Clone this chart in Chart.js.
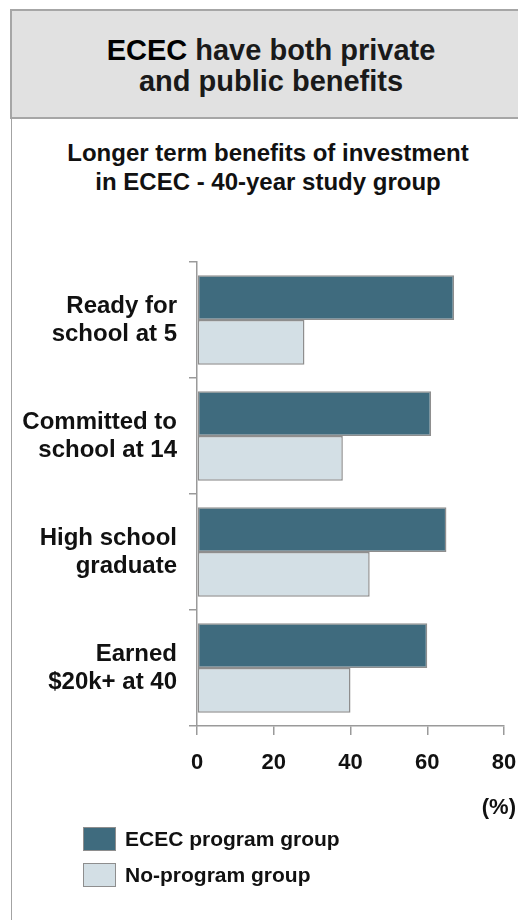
<!DOCTYPE html>
<html>
<head>
<meta charset="utf-8">
<script src="https://cdn.jsdelivr.net/npm/chart.js@4.4.1/dist/chart.umd.min.js"></script>
<style>
  html, body { margin: 0; padding: 0; background: #fff; }
  body { width: 518px; height: 920px; position: relative; overflow: hidden;
         font-family: "Liberation Sans", Arial, sans-serif; color: #111; }
  .frame { position: absolute; left: 11px; top: 117px; width: 0; height: 803px;
           border-left: 1.5px solid #a3a3a3; }
  .head { position: absolute; left: 10px; top: 9px; width: 530px; height: 106px;
          background: #e1e1e1; border: 2px solid #a6a6a6; }
  .head-text { position: absolute; left: 11px; top: 35px; width: 520px; text-align: center;
               font-weight: bold; font-size: 29px; line-height: 31px; color: #1a1a1a; }
  .head-text b { color: #000; }
  .sub { position: absolute; left: 18px; top: 138px; width: 500px; text-align: center;
         font-weight: bold; font-size: 24px; line-height: 29px; }
  canvas { position: absolute; left: 0; top: 0; }
  .unit { position: absolute; right: 2px; top: 794px; font-weight: bold; font-size: 22px; line-height: 26px; }
  .legend { position: absolute; left: 83px; top: 827px; }
  .legend .item { position: relative; height: 35.5px; }
  .legend .box { position: absolute; left: 0; top: 0; width: 31px; height: 22px; border: 1.5px solid #8e8e8e; }
  .legend .lbl { position: absolute; left: 42px; top: -1px; font-weight: bold; font-size: 21px; line-height: 26px; white-space: nowrap; }
</style>
</head>
<body>
<div class="head"></div>
<div class="head-text"><b>ECEC</b> have both private<br>and public benefits</div>
<div class="frame"></div>
<div class="sub">Longer term benefits of investment<br>in ECEC - 40-year study group</div>
<canvas id="chart" width="518" height="920"></canvas>
<div class="unit">(%)</div>
<div class="legend" id="legend"></div>

<script>
// outcomes at age 5 / 14 / school leaving / 40, share of each group (%)
const outcomes = [
  ['Ready for', 'school at 5'],
  ['Committed to', 'school at 14'],
  ['High school', 'graduate'],
  ['Earned', '$20k+ at 40']
];
const programGroup = [67, 61, 65, 60];
const noProgramGroup = [28, 38, 45, 40];
const xTicks = [0, 20, 40, 60, 80];

const axisGray = '#9a9a9a';
const barEdge = '#8e8e8e';

const chart = new Chart(document.getElementById('chart'), {
  type: 'bar',
  data: {
    labels: outcomes,
    datasets: [
      {
        label: 'ECEC program group',
        data: programGroup,
        backgroundColor: '#3f6b7e',
        borderColor: barEdge,
        borderWidth: 1.5,
        borderSkipped: false
      },
      {
        label: 'No-program group',
        data: noProgramGroup,
        backgroundColor: '#d3dfe5',
        borderColor: barEdge,
        borderWidth: 1.5,
        borderSkipped: false
      }
    ]
  },
  options: {
    indexAxis: 'y',
    responsive: false,
    animation: false,
    devicePixelRatio: 1,
    layout: { padding: { top: 262, bottom: 134, left: 0, right: 14 } },
    categoryPercentage: 0.77,
    barPercentage: 1,
    plugins: {
      legend: { display: false },
      tooltip: { enabled: false }
    },
    scales: {
      x: {
        min: xTicks[0],
        max: xTicks[xTicks.length - 1],
        afterBuildTicks: (s) => { s.ticks = xTicks.map(v => ({ value: v })); },
        afterFit: (s) => { s.height = 60; s.paddingLeft = 0; s.paddingRight = 0; },
        grid: { drawOnChartArea: false, drawTicks: true, tickLength: 9, color: axisGray, lineWidth: 1.5 },
        border: { color: axisGray, width: 1.5 },
        ticks: {
          padding: 15,
          color: '#111',
          font: { family: '"Liberation Sans", Arial, sans-serif', size: 22, weight: 'bold' }
        }
      },
      y: {
        afterFit: (s) => { s.width = 197; s.paddingTop = 0; s.paddingBottom = 0; },
        grid: { offset: true, drawOnChartArea: false, tickLength: 8, color: axisGray, lineWidth: 1.5 },
        border: { color: axisGray, width: 1.5 },
        ticks: {
          padding: 12,
          color: '#111',
          font: { family: '"Liberation Sans", Arial, sans-serif', size: 24, weight: 'bold', lineHeight: 1.17 }
        }
      }
    }
  }
});

// legend list under the axis, one row per dataset
const legend = document.getElementById('legend');
chart.data.datasets.forEach(ds => {
  const item = document.createElement('div');
  item.className = 'item';
  const box = document.createElement('div');
  box.className = 'box';
  box.style.background = ds.backgroundColor;
  const lbl = document.createElement('div');
  lbl.className = 'lbl';
  lbl.textContent = ds.label;
  item.appendChild(box);
  item.appendChild(lbl);
  legend.appendChild(item);
});
</script>
</body>
</html>
